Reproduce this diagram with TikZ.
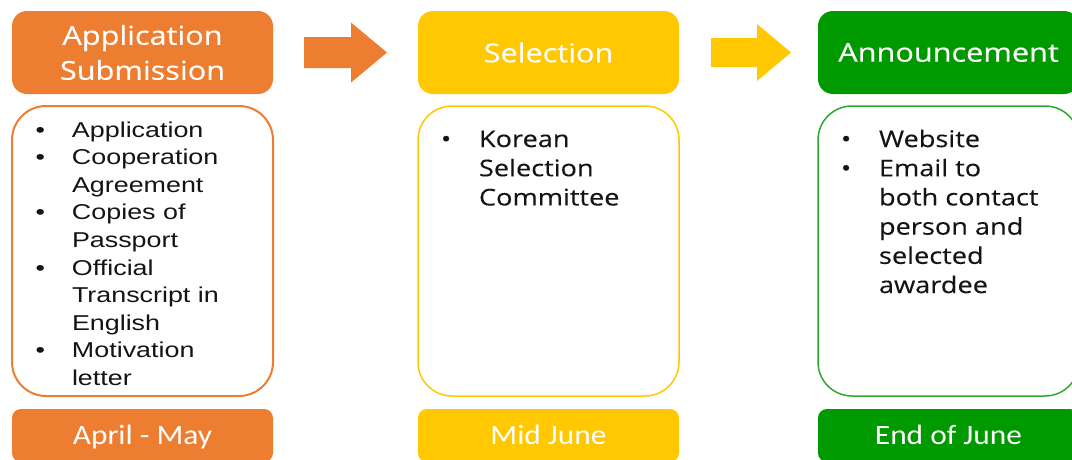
\documentclass[tikz,border=0pt]{standalone}
\usepackage{fontspec}
\usetikzlibrary{positioning,calc}
\newfontfamily\headfont[FakeStretch=1.18,FakeBold=0.4]{Open Sans}
\newfontfamily\listfont[FakeStretch=1.25]{Liberation Sans}
\newfontfamily\krfont[FakeStretch=1.18,FakeBold=0.2]{Open Sans}
\newfontfamily\datefont[FakeStretch=1.12]{Carlito}
\definecolor{appOrange}{HTML}{ED7D31}
\definecolor{selYellow}{HTML}{FFC800}
\definecolor{annGreen}{HTML}{009900}
\definecolor{annLine}{HTML}{2EA82E}
\tikzset{
  headbox/.style={rectangle, rounded corners=15pt, minimum width=261pt, minimum height=83pt,
    text=white, align=center, font=\headfont\fontsize{26}{35}\selectfont},
  listbox/.style={rectangle, rounded corners=34pt, minimum width=261pt, minimum height=290pt},
  datebox/.style={rectangle, rounded corners=9pt, minimum width=261pt, minimum height=53pt,
    text=white, text height=18pt, text depth=0pt, font=\datefont\fontsize{28}{32}\selectfont},
  entries/.style={anchor=north west, text=black!92},
}

\begin{document}
\begin{tikzpicture}[x=1pt,y=1pt,inner sep=0pt,outer sep=0pt]
    \useasboundingbox (0,0) rectangle (1072,-459);
    \clip (0,0) rectangle (1072,-459);

    \node[headbox, fill=appOrange] (h1) at (142.5,-52.5) {Application\\Submission};
    \node[headbox, fill=selYellow] (h2) [right=145pt of h1] {Selection};
    \node[headbox, fill=annGreen] (h3) [right=139pt of h2] {Announcement};

    \node[listbox, draw=appOrange, line width=2pt] (c1) [below=12pt of h1] {};
    \node[listbox, draw=selYellow, line width=1.5pt] (c2) [below=12pt of h2] {};
    \node[listbox, draw=annLine, line width=1.5pt] (c3) [below=12pt of h3] {};

    \node[datebox, fill=appOrange] (d1) [below=13pt of c1] {April - May};
    \node[datebox, fill=selYellow] (d2) [below=13pt of c2] {Mid June};
    \node[datebox, fill=annGreen] (d3) [below=13pt of c3] {End of June};

    % block arrows between the headers
    \coordinate (a1) at ($(h1.east)!0.5!(h2.west)$);
    \coordinate (a2) at ($(h2.east)!0.5!(h3.west)$);
    \fill[appOrange] ([shift={(-41.5,15.5)}]a1) -- ++(47,0) -- ++(0,14.5) -- ++(36,-30)
      -- ++(-36,-30) -- ++(0,14.5) -- ++(-47,0) -- cycle;
    \fill[selYellow] ([shift={(-37.5,14.5)}]a2) -- ++(46,0) -- ++(0,14) -- ++(34,-28.5)
      -- ++(-34,-28.5) -- ++(0,14) -- ++(-46,0) -- cycle;

    \node[entries, font=\listfont\fontsize{21.5}{27.6}\selectfont] (l1)
      [below right=11.7pt and 23.5pt of c1.north west] {%
      \begin{tabular}{@{}p{36.5pt}@{}l@{}}
        \textbullet & Application\\
        \textbullet & Cooperation\\
                    & Agreement\\
        \textbullet & Copies of\\
                    & Passport\\
        \textbullet & Official\\
                    & Transcript in\\
                    & English\\
        \textbullet & Motivation\\
                    & letter
      \end{tabular}};
    \node[entries, font=\krfont\fontsize{23}{29.2}\selectfont] (l2)
      [below right=20.6pt and 23pt of c2.north west] {%
      \begin{tabular}{@{}p{38pt}@{}l@{}}
        \textbullet & Korean\\
                    & Selection\\
                    & Committee
      \end{tabular}};
    \node[entries, font=\krfont\fontsize{23}{29.2}\selectfont] (l3)
      [below right=20.6pt and 23pt of c3.north west] {%
      \begin{tabular}{@{}p{38pt}@{}l@{}}
        \textbullet & Website\\
        \textbullet & Email to\\
                    & both contact\\
                    & person and\\
                    & selected\\
                    & awardee
      \end{tabular}};
\end{tikzpicture}
\end{document}
